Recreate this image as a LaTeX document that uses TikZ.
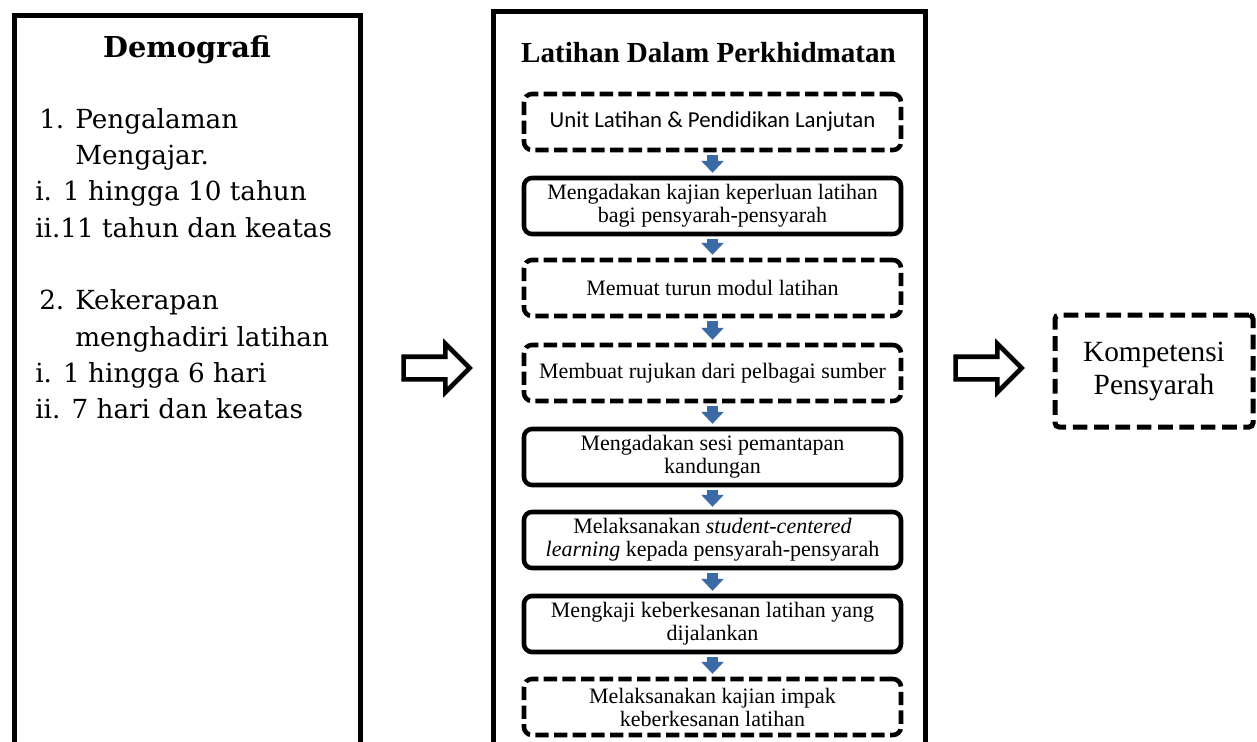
\documentclass[tikz,border=0pt]{standalone}
\usepackage{fontspec}
\setmainfont{Liberation Serif}
\newfontfamily\bookfont{DejaVu Serif}
\newfontfamily\calfont{Carlito}
\usetikzlibrary{arrows.meta,shapes.arrows}
\definecolor{arrowblue}{RGB}{60,106,166}

\begin{document}
\begin{tikzpicture}[x=0.75pt,y=0.75pt,yscale=-1,xscale=1,
  bigbox/.style={line width=3.75pt},
  stepsolid/.style={draw,line width=3.4pt,rounded corners=6pt,minimum width=282.75pt,minimum height=42pt,inner sep=0pt,align=center,font=\fontsize{16.5}{17.25}\selectfont},
  stepdashed/.style={stepsolid,dash pattern=on 10pt off 4pt},
  flowarrow/.style={arrowblue,line width=8pt,shorten >=2.2pt,shorten <=1.7pt,-{Triangle[width=16.5pt,length=9pt]}},
  hollowarrow/.style={draw,single arrow,line width=3.4pt,inner xsep=0pt,inner ysep=6.75pt,single arrow head extend=9.75pt,minimum height=49.5pt},
  listtext/.style={anchor=base west,inner sep=0pt,font=\bookfont\fontsize{19.7}{24}\selectfont}]
\path[use as bounding box] (0,0) rectangle (1257,742);
\clip (0,0) rectangle (1257,742);

%Shape: Rectangle [Demografi]
\draw[bigbox] (14.5,15.5) rectangle (360,770);
%Shape: Rectangle [Latihan]
\draw[bigbox] (493,11.5) rectangle (925.5,770);

% Text Node
\node[anchor=base,inner sep=0pt,font=\bookfont\bfseries\fontsize{21.6}{24}\selectfont] (demotitle) at (187,58) {Demografi};
% Text Node
\node[listtext] (n1) at (39,128) {1.};
\node[listtext] (pengalaman) at (75,128) {Pengalaman};
\node[listtext] (mengajar) at (75,164) {Mengajar.};
\node[listtext] (pa) at (35,200) {i. 1 hingga 10 tahun};
\node[listtext] (pb) at (35,237) {ii.11 tahun dan keatas};
% Text Node
\node[listtext] (n2) at (39,309) {2.};
\node[listtext] (kekerapan) at (75,309) {Kekerapan};
\node[listtext] (menghadiri) at (75,346) {menghadiri latihan};
\node[listtext] (ka) at (35,382) {i. 1 hingga 6 hari};
\node[listtext] (kb) at (35,418) {ii. 7 hari dan keatas};

% Text Node
\node[anchor=base,inner sep=0pt,font=\bfseries\fontsize{21.8}{24}\selectfont] (latihantitle) at (708.5,63) {Latihan Dalam Perkhidmatan};

%Steps
\node[stepdashed,font=\calfont\fontsize{17.1}{20}\selectfont] (s1) at (712.5,122) {Unit Latihan \& Pendidikan Lanjutan};
\node[stepsolid] (s2) at (712.5,206) {Mengadakan kajian keperluan latihan\\bagi pensyarah-pensyarah};
\node[stepdashed] (s3) at (712.5,288) {Memuat turun modul latihan};
\node[stepdashed] (s4) at (712.5,373) {Membuat rujukan dari pelbagai sumber};
\node[stepsolid] (s5) at (712.5,457) {Mengadakan sesi pemantapan\\kandungan};
\node[stepsolid] (s6) at (712.5,540) {Melaksanakan \textit{student-centered}\\\textit{learning} kepada pensyarah-pensyarah};
\node[stepsolid] (s7) at (712.5,624) {Mengkaji keberkesanan latihan yang\\dijalankan};
\node[stepdashed] (s8) at (712.5,707) {Melaksanakan kajian impak\\keberkesanan latihan};

%Straight Lines
\draw[flowarrow] (s1) -- (s2);
\draw[flowarrow] (s2) -- (s3);
\draw[flowarrow] (s3) -- (s4);
\draw[flowarrow] (s4) -- (s5);
\draw[flowarrow] (s5) -- (s6);
\draw[flowarrow] (s6) -- (s7);
\draw[flowarrow] (s7) -- (s8);

%Shape: Right Arrow
\node[hollowarrow] (toLatihan) at (431,368) {};
\node[hollowarrow] (toKompetensi) at (983,368) {};

% Text Node
\node[draw,dash pattern=on 11pt off 5pt,line width=3.75pt,rounded corners=3pt,minimum width=148.5pt,minimum height=84pt,align=center,font=\fontsize{22}{24.75}\selectfont] (kompetensi) at (1154,371) {Kompetensi\\Pensyarah};

\end{tikzpicture}
\end{document}
